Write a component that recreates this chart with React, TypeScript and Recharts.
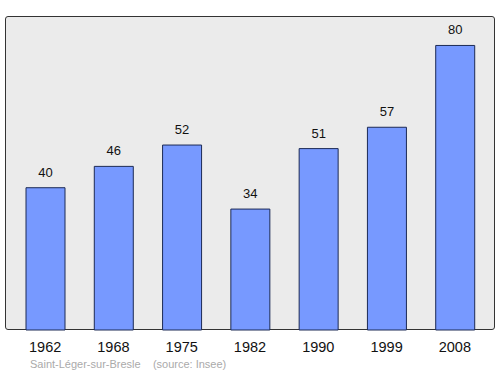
import { BarChart, Bar, XAxis, YAxis, LabelList } from 'recharts';

const years = ['1962', '1968', '1975', '1982', '1990', '1999', '2008'];
const population = [40, 46, 52, 34, 51, 57, 80];
const townName = 'Saint-Léger-sur-Bresle';
const sourceNote = '(source: Insee)';

const data = years.map((year, i) => ({ year, value: population[i] }));

export default function App() {
  return (
    <div style={{ position: 'absolute', left: 0, top: 0, width: 500, height: 374, fontFamily: '"Liberation Sans", Arial, sans-serif' }}>
      <div
        style={{
          position: 'absolute',
          left: 5,
          top: 16,
          width: 488,
          height: 312,
          background: '#ebebeb',
          border: '1.5px solid #333',
          borderRadius: 3,
        }}
      />
      <div style={{ position: 'absolute', left: 0, top: 0 }}>
        <BarChart width={500} height={374} data={data} margin={{ top: 17, right: 5, bottom: 0, left: 5 }} barSize={39}>
          <XAxis
            dataKey="year"
            axisLine={false}
            tickLine={false}
            tickMargin={6}
            height={44}
            padding={{ left: 6, right: 6 }}
            tick={{ fontSize: 14.5, fill: '#111', fontFamily: '"Liberation Sans", Arial, sans-serif' }}
            interval={0}
          />
          <YAxis hide domain={[0, 88]} />
          <Bar dataKey="value" fill="#7799ff" stroke="#1c2a55" strokeWidth={1} isAnimationActive={false}>
            <LabelList
              dataKey="value"
              position="top"
              offset={11}
              style={{ fontSize: 13, fill: '#111', fontFamily: '"Liberation Sans", Arial, sans-serif' }}
            />
          </Bar>
        </BarChart>
      </div>
      <div style={{ position: 'absolute', left: 30, top: 358, fontSize: 11, color: '#aaa', whiteSpace: 'pre' }}>
        {townName}    {sourceNote}
      </div>
    </div>
  );
}
